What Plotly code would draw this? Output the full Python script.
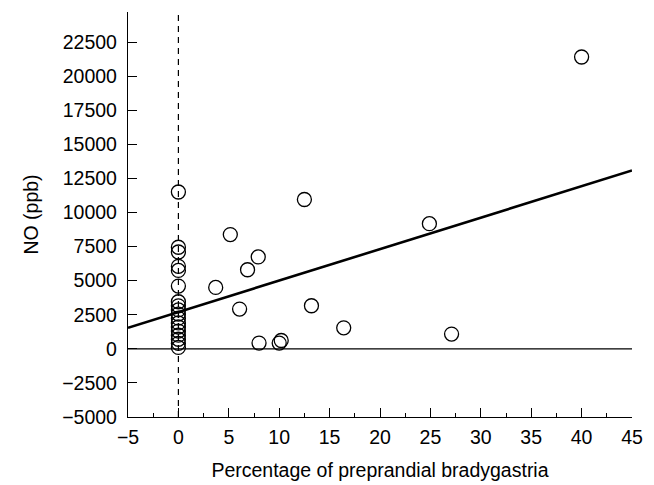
import plotly.graph_objects as go

# Data
x_vals = [0, 0, 0, 0, 0, 0, 0, 0, 0, 0, 0, 0, 0, 0, 0, 0, 0, 0,
          3.7, 5.15, 6.07, 6.86, 7.92, 8.0, 10.0, 10.2, 12.5, 13.2, 16.4, 24.9, 27.1, 40.0]
y_vals = [11500, 7450, 7100, 6050, 5750, 4600,
          3450, 3150, 2850, 2550, 2250, 1900, 1600, 1300, 1000, 700, 400, 100,
          4500, 8375, 2915, 5800, 6740, 420, 420, 610, 10950, 3160, 1540, 9180, 1080, 21400]
fit_x = [-5, 45]
fit_intercept = 2695
fit_slope = 230.8
x_ticks = [-5, 0, 5, 10, 15, 20, 25, 30, 35, 40, 45]
y_ticks = [-5000, -2500, 0, 2500, 5000, 7500, 10000, 12500, 15000, 17500, 20000, 22500]

font = "Liberation Sans, Arial, sans-serif"
fsize = 19.5

fig = go.Figure()
fig.add_trace(go.Scatter(x=[-5, 45], y=[0, 0], mode="lines",
                         line=dict(color="black", width=1.3), hoverinfo="skip"))
fig.add_trace(go.Scatter(x=[0, 0], y=[-5000, 24700], mode="lines",
                         line=dict(color="black", width=1.2, dash="6px,5px"), hoverinfo="skip"))
fig.add_trace(go.Scatter(x=fit_x, y=[fit_intercept + fit_slope * v for v in fit_x], mode="lines",
                         line=dict(color="black", width=2.6)))
fig.add_trace(go.Scatter(x=x_vals, y=y_vals, mode="markers",
                         marker=dict(symbol="circle-open", size=14, color="black",
                                     line=dict(width=1.3, color="black"))))

fig.update_layout(
    width=654, height=485,
    margin=dict(l=127.5, r=21.5, t=12, b=68),
    plot_bgcolor="white", paper_bgcolor="white",
    showlegend=False,
    font=dict(family=font, size=fsize, color="black"),
)
fig.update_xaxes(range=[-5, 45], tickvals=x_ticks, ticktext=[str(v).replace("-", "\u2212") for v in x_ticks],
                 automargin=False,
                 showgrid=False, zeroline=False, showline=True, linecolor="black", linewidth=1.3,
                 ticks="inside", ticklen=9, tickwidth=1.3, tickcolor="black",
                 ticklabelstandoff=2,
                 minor=dict(dtick=2.5, tick0=-5, ticks="inside", ticklen=4, tickwidth=1.2, tickcolor="black"),
                 title=dict(text="Percentage of preprandial bradygastria", font=dict(size=fsize), standoff=16))
fig.update_yaxes(range=[-5000, 24700], tickvals=y_ticks, ticktext=[str(v).replace("-", "\u2212") for v in y_ticks],
                 automargin=False,
                 showgrid=False, zeroline=False, showline=True, linecolor="black", linewidth=1.3,
                 ticks="inside", ticklen=9, tickwidth=1.3, tickcolor="black",
                 ticklabelstandoff=6,
                 title=dict(text="NO (ppb)", font=dict(size=fsize), standoff=18))

fig.write_html("out.html", config={"displayModeBar": False},
               post_script="document.body.style.margin='0';")
